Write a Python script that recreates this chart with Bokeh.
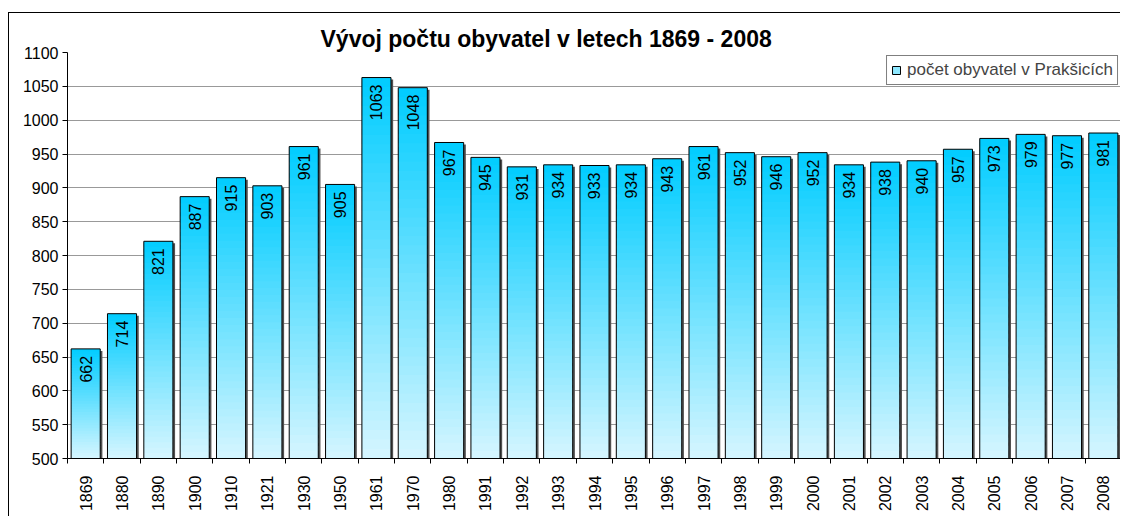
import math
import numpy as np
from bokeh.plotting import figure
from bokeh.models import (ColumnDataSource, Range1d, FixedTicker, LabelSet,
                          Legend, LegendItem)
from bokeh.core.properties import value
from bokeh.embed import file_html
from bokeh.resources import INLINE

# ---------------- data ----------------
years = ["1869", "1880", "1890", "1900", "1910", "1921", "1930", "1950",
         "1961", "1970", "1980", "1991", "1992", "1993", "1994", "1995",
         "1996", "1997", "1998", "1999", "2000", "2001", "2002", "2003",
         "2004", "2005", "2006", "2007", "2008"]
population = [662, 714, 821, 887, 915, 903, 961, 905, 1063, 1048, 967, 945,
              931, 934, 933, 934, 943, 961, 952, 946, 952, 934, 938, 940,
              957, 973, 979, 977, 981]
y_ticks = [500, 550, 600, 650, 700, 750, 800, 850, 900, 950, 1000, 1050, 1100]
title_text = "Vývoj počtu obyvatel v letech 1869 - 2008"
series_name = "počet obyvatel v Prakšicích"

FONT = "Liberation Sans"
n = len(years)
y_lo, y_hi = y_ticks[0], y_ticks[-1]
xc = [i + 0.5 for i in range(n)]
BAR_W = 0.8

p = figure(width=1112, height=504,
           x_range=Range1d(0, n), y_range=Range1d(y_lo, y_hi),
           output_backend="svg", toolbar_location=None,
           min_border_left=58, min_border_right=0,
           min_border_top=39, min_border_bottom=59)
p.margin = (12, 0, 0, 8)
p.styles = {"border-top": "1px solid black", "border-left": "1px solid black"}
p.outline_line_color = None
p.background_fill_color = "white"
p.border_fill_color = "white"

# title
p.title.text = title_text
p.title.text_font = FONT
p.title.text_font_style = "bold"
p.title.text_font_size = "23px"
p.title.text_color = "black"
p.title.align = "left"
p.title.offset = 253
p.title.standoff = 2

# ---------------- bar shadow ----------------
shadow_src = ColumnDataSource(dict(
    x=[x + 0.06 for x in xc],
    top=[v - 3.0 for v in population],
))
p.vbar(x="x", top="top", bottom=y_lo, width=BAR_W, source=shadow_src,
       fill_color="#505050", line_color=None)

# ---------------- gradient bars (per-bar vertical gradient) ----------------
N = 40
bot_col = np.array([214, 246, 255])
top_col = np.array([0, 204, 255])
gx, gb, gt, gc = [], [], [], []
for i, v in enumerate(population):
    h = v - y_lo
    for k in range(N):
        f = (k + 0.5) / N
        c = bot_col + (top_col - bot_col) * f
        gx.append(xc[i])
        gb.append(y_lo + h * k / N)
        gt.append(min(v, y_lo + h * (k + 1.6) / N))
        gc.append("#%02x%02x%02x" % tuple(int(round(t)) for t in c))
grad_src = ColumnDataSource(dict(x=gx, bottom=gb, top=gt, color=gc))
grad_r = p.vbar(x="x", bottom="bottom", top="top", width=BAR_W, source=grad_src,
                fill_color="color", line_color=None)

# outline
bar_src = ColumnDataSource(dict(x=xc, top=population,
                                label=[str(v) for v in population]))
out_r = p.vbar(x="x", top="top", bottom=y_lo, width=BAR_W, source=bar_src,
               fill_color=None, line_color="black", line_width=1)

# value labels
labels = LabelSet(x="x", y="top", text="label", source=bar_src,
                  angle=math.pi / 2, text_align="right", text_baseline="middle",
                  y_offset=-7, text_font=value(FONT), text_font_size="16px",
                  text_color="black")
p.add_layout(labels)

# ---------------- legend ----------------
legend = Legend(items=[LegendItem(label=series_name,
                                  renderers=[grad_r, out_r], index=N // 3)],
                location="top_right")
legend.border_line_color = "black"
legend.border_line_width = 1
legend.background_fill_color = "white"
legend.background_fill_alpha = 1
legend.label_text_font = FONT
legend.label_text_font_size = "17px"
legend.glyph_width = 10
legend.glyph_height = 10
legend.padding = 4
legend.margin = 3
legend.label_standoff = 6
legend.label_height = 18
legend.spacing = 0
p.add_layout(legend)

# ---------------- axes ----------------
p.xaxis.ticker = FixedTicker(ticks=xc, minor_ticks=list(range(n + 1)))
p.xaxis.major_label_overrides = {x: y for x, y in zip(xc, years)}
p.xaxis.major_label_orientation = math.pi / 2
p.xaxis.major_tick_line_color = None
p.xaxis.major_tick_out = 5
p.xaxis.major_tick_in = 0
p.xaxis.minor_tick_line_color = "black"
p.xaxis.minor_tick_out = 5
p.xaxis.minor_tick_in = 0
p.xaxis.major_label_standoff = 12

p.yaxis.ticker = FixedTicker(ticks=y_ticks, minor_ticks=[])
p.yaxis.major_tick_out = 5
p.yaxis.major_tick_in = 0
p.yaxis.minor_tick_line_color = None
p.yaxis.major_label_standoff = 4

for ax in (p.xaxis, p.yaxis):
    ax.axis_line_color = "black"
    ax.axis_line_width = 1
    ax.major_label_text_font = FONT
    ax.major_label_text_font_size = "16px"
    ax.major_label_text_color = "black"

p.xgrid.grid_line_color = None
p.ygrid.ticker = FixedTicker(ticks=y_ticks)
p.ygrid.grid_line_color = "#999999"
p.ygrid.grid_line_width = 1

open("out.html", "w").write(file_html(p, INLINE))
